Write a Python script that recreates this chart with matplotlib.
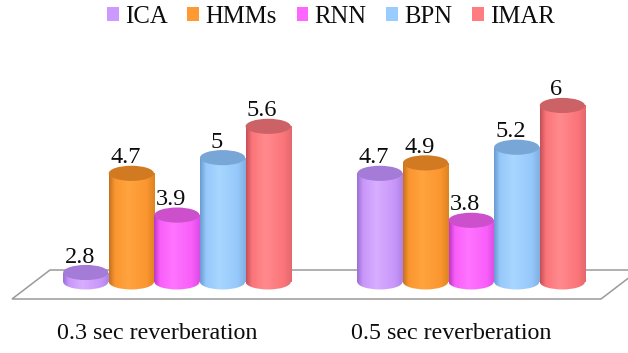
import numpy as np
import matplotlib
matplotlib.use("Agg")
import matplotlib.pyplot as plt
from matplotlib.patches import Ellipse, Polygon, Patch
from matplotlib.colors import LinearSegmentedColormap

plt.rcParams['font.family'] = ['Liberation Serif', 'DejaVu Serif']

# ---- data ----
categories = ["0.3 sec reverberation", "0.5 sec reverberation"]
methods = ["ICA", "HMMs", "RNN", "BPN", "IMAR"]
values = {
    "ICA":  [2.8, 4.7],
    "HMMs": [4.7, 4.9],
    "RNN":  [3.9, 3.8],
    "BPN":  [5.0, 5.2],
    "IMAR": [5.6, 6.0],
}
axis_floor = 2.62

# ---- cylinder shading: (edge-dark, base, highlight, right edge, top cap) ----
shades = {
    "ICA":  ("#9A6ED4", "#C996FA", "#D8AEFF", "#AE82E6", "#A57BD8"),
    "HMMs": ("#C4711E", "#FB9630", "#FFA43E", "#DC8420", "#D17A22"),
    "RNN":  ("#BC36C4", "#F95EF9", "#FF74FF", "#DC4CE4", "#CC4FCC"),
    "BPN":  ("#6A9ACF", "#96C8FB", "#A8D6FF", "#80AFDF", "#78A6D6"),
    "IMAR": ("#C44E56", "#FB7579", "#FF8A8E", "#E4686E", "#CC6266"),
}
legend_colors = {"ICA": "#CC99FF", "HMMs": "#FF9933", "RNN": "#FF66FF",
                 "BPN": "#99CCFF", "IMAR": "#FF7C80"}

W, H = 628, 353
fig = plt.figure(figsize=(W / 100, H / 100), dpi=100)
ax = fig.add_axes([0, 0, 1, 1])
ax.set_axis_off()

group_pos = np.array([0.0, 6.45])
bar_w = 0.99
cap_h = 0.29

# floor of the 3D plot area
floor_px = [(12, 299), (50, 270), (639, 270), (601, 299)]
floor = Polygon([(x / W, 1 - y / H) for x, y in floor_px], closed=True,
                transform=ax.transAxes, facecolor="white", edgecolor="#9a9a9a",
                linewidth=1.1, zorder=1, clip_on=False)
ax.add_patch(floor)

grad = np.linspace(0, 1, 256).reshape(1, -1)
z = 2
for j, m in enumerate(methods):
    left, base, hi, right, top = shades[m]
    cmap = LinearSegmentedColormap.from_list(
        m, [(0.0, left), (0.13, base), (0.42, hi), (0.82, base), (1.0, right)])
    xs = group_pos + (j - 2)
    heights = np.array(values[m]) - axis_floor
    bars = ax.bar(xs, heights, width=bar_w, bottom=axis_floor,
                  facecolor="none", edgecolor="none", zorder=z)
    for x, v, rect in zip(xs, values[m], bars):
        x0, x1 = x - bar_w / 2, x + bar_w / 2
        # bottom rounded end
        bot = Ellipse((x, axis_floor), bar_w, cap_h, facecolor="none",
                      edgecolor="none", transform=ax.transData)
        ax.add_patch(bot)
        for clip in (rect, bot):
            im = ax.imshow(grad, extent=(x0, x1, axis_floor - cap_h, v),
                           aspect="auto", cmap=cmap, interpolation="bilinear",
                           origin="lower", zorder=z)
            im.set_clip_path(clip)
        # top cap
        ax.add_patch(Ellipse((x, v), bar_w, cap_h, facecolor=top,
                             edgecolor="none", zorder=z + 0.5))
        ax.annotate(f"{v:g}", xy=(x, v), xytext=(-6, 10),
                    textcoords="offset pixels", ha="center", va="baseline",
                    fontsize=17.5, color="#0d0d0d", zorder=10)
    z += 1

# category labels under each group
for gx, cat in zip(group_pos, categories):
    ax.annotate(cat, xy=(gx, axis_floor), xytext=(-20, -52),
                textcoords="offset pixels", ha="center", va="center",
                fontsize=17.3, color="#0d0d0d")

ax.set_xlim(-3.88, 9.89)
ax.set_ylim(1.258, 8.02)

handles = [Patch(facecolor=legend_colors[m], edgecolor="none", label=m)
           for m in methods]
fig.legend(handles=handles, loc="center", bbox_to_anchor=(0.527, 0.952),
           ncol=5, frameon=False, fontsize=17.8, handlelength=0.48,
           handleheight=0.48, handletextpad=0.25, columnspacing=0.8,
           borderpad=0, labelcolor="#0d0d0d")

fig.savefig("out.png", dpi=100)
